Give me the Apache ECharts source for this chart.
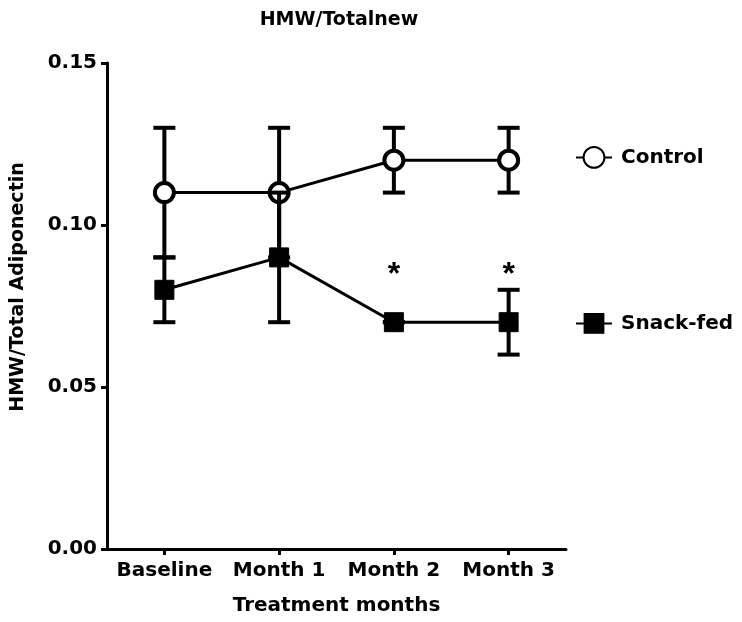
<!DOCTYPE html>
<html>
<head>
<meta charset="utf-8">
<script src="https://cdn.jsdelivr.net/npm/echarts@6/dist/echarts.min.js"></script>
<style>
  html, body { margin: 0; padding: 0; background: #fff; }
  #chart { width: 742px; height: 622px; }
</style>
</head>
<body>
<div id="chart"></div>
<script>
const months = ["Baseline", "Month 1", "Month 2", "Month 3"];
const controlMean = [0.11, 0.11, 0.12, 0.12];
const controlLow = [0.09, 0.09, 0.11, 0.11];
const controlHigh = [0.13, 0.13, 0.13, 0.13];
const snackMean = [0.08, 0.09, 0.07, 0.07];
const snackLow = [0.07, 0.07, 0.07, 0.06];
const snackHigh = [0.09, 0.11, 0.07, 0.08];
const starLevel = [null, null, 0.085, 0.085];

const font = "'DejaVu Sans', sans-serif";
const chart = echarts.init(document.getElementById("chart"));

function errorBars(lows, highs) {
  return months.map((m, i) => [i, lows[i], highs[i]]);
}

function renderErr(params, api) {
  const x = api.value(0);
  const lo = api.coord([x, api.value(1)]);
  const hi = api.coord([x, api.value(2)]);
  const half = 11;
  const style = { stroke: "#000", lineWidth: 4 };
  return {
    type: "group",
    children: [
      { type: "line", shape: { x1: lo[0], y1: lo[1], x2: hi[0], y2: hi[1] }, style },
      { type: "line", shape: { x1: lo[0] - half, y1: lo[1], x2: lo[0] + half, y2: lo[1] }, style },
      { type: "line", shape: { x1: hi[0] - half, y1: hi[1], x2: hi[0] + half, y2: hi[1] }, style }
    ]
  };
}

const legendText = { fontFamily: font, fontWeight: "bold", fontSize: 20, color: "#000", padding: [0, 0, 0, 4] };

const option = {
  animation: false,
  backgroundColor: "#fff",
  title: {
    text: "HMW/Totalnew",
    left: 334,
    textAlign: "center",
    top: 6,
    textStyle: { fontFamily: font, fontWeight: "bold", fontSize: 19, color: "#000" }
  },
  grid: { left: 107, top: 63, right: 176, bottom: 73 },
  legend: [
    {
      data: ["Control"],
      left: 570,
      top: 141,
      itemWidth: 36,
      itemHeight: 26,
      textStyle: legendText
    },
    {
      data: ["Snack-fed"],
      left: 570,
      top: 308,
      itemWidth: 36,
      itemHeight: 26,
      textStyle: legendText
    }
  ],
  xAxis: {
    type: "category",
    data: months,
    boundaryGap: true,
    name: "Treatment months",
    nameLocation: "middle",
    nameGap: 47,
    nameTextStyle: { fontFamily: font, fontWeight: "bold", fontSize: 20, color: "#000" },
    axisLine: { lineStyle: { color: "#000", width: 3 } },
    axisTick: { show: true, alignWithLabel: true, interval: 0, length: 6, lineStyle: { width: 3 } },
    axisLabel: { interval: 0, fontFamily: font, fontWeight: "bold", fontSize: 20, color: "#000", margin: 12 }
  },
  yAxis: {
    type: "value",
    min: 0,
    max: 0.15,
    interval: 0.05,
    name: "HMW/Total Adiponectin",
    nameLocation: "middle",
    nameGap: 79,
    nameTextStyle: {
      fontFamily: font, fontWeight: "bold", fontSize: 19, color: "#000",
      padding: [0, 0, 0, 38]
    },
    splitLine: { show: false },
    axisLine: { show: true, lineStyle: { color: "#000", width: 3 } },
    axisTick: { show: true, length: 6, lineStyle: { width: 3 } },
    axisLabel: {
      fontFamily: font, fontWeight: "bold", fontSize: 20, color: "#000", margin: 10,
      formatter: v => v.toFixed(2)
    }
  },
  series: [
    {
      name: "Control-err",
      type: "custom",
      renderItem: renderErr,
      data: errorBars(controlLow, controlHigh),
      z: 1
    },
    {
      name: "Control",
      type: "line",
      data: controlMean,
      symbol: "circle",
      symbolSize: 19,
      itemStyle: { color: "#fff", borderColor: "#000", borderWidth: 4 },
      lineStyle: { color: "#000", width: 3 },
      z: 2
    },
    {
      name: "Snack-err",
      type: "custom",
      renderItem: renderErr,
      data: errorBars(snackLow, snackHigh),
      z: 3
    },
    {
      name: "Snack-fed",
      type: "line",
      data: snackMean,
      symbol: "rect",
      symbolSize: 19,
      itemStyle: { color: "#000", borderColor: "#000" },
      lineStyle: { color: "#000", width: 3 },
      z: 4
    },
    {
      name: "stars",
      type: "scatter",
      data: starLevel,
      symbol: "circle",
      symbolSize: 2,
      itemStyle: { color: "rgba(0,0,0,0)", opacity: 1 },
      silent: true,
      label: {
        show: true,
        formatter: "*",
        position: "inside",
        offset: [0, 2],
        fontFamily: "'Liberation Sans', Arial, sans-serif",
        fontWeight: "bold",
        fontSize: 32,
        color: "#000",
        opacity: 1,
        textBorderWidth: 0
      },
      z: 5
    }
  ]
};

chart.setOption(option);
</script>
</body>
</html>
